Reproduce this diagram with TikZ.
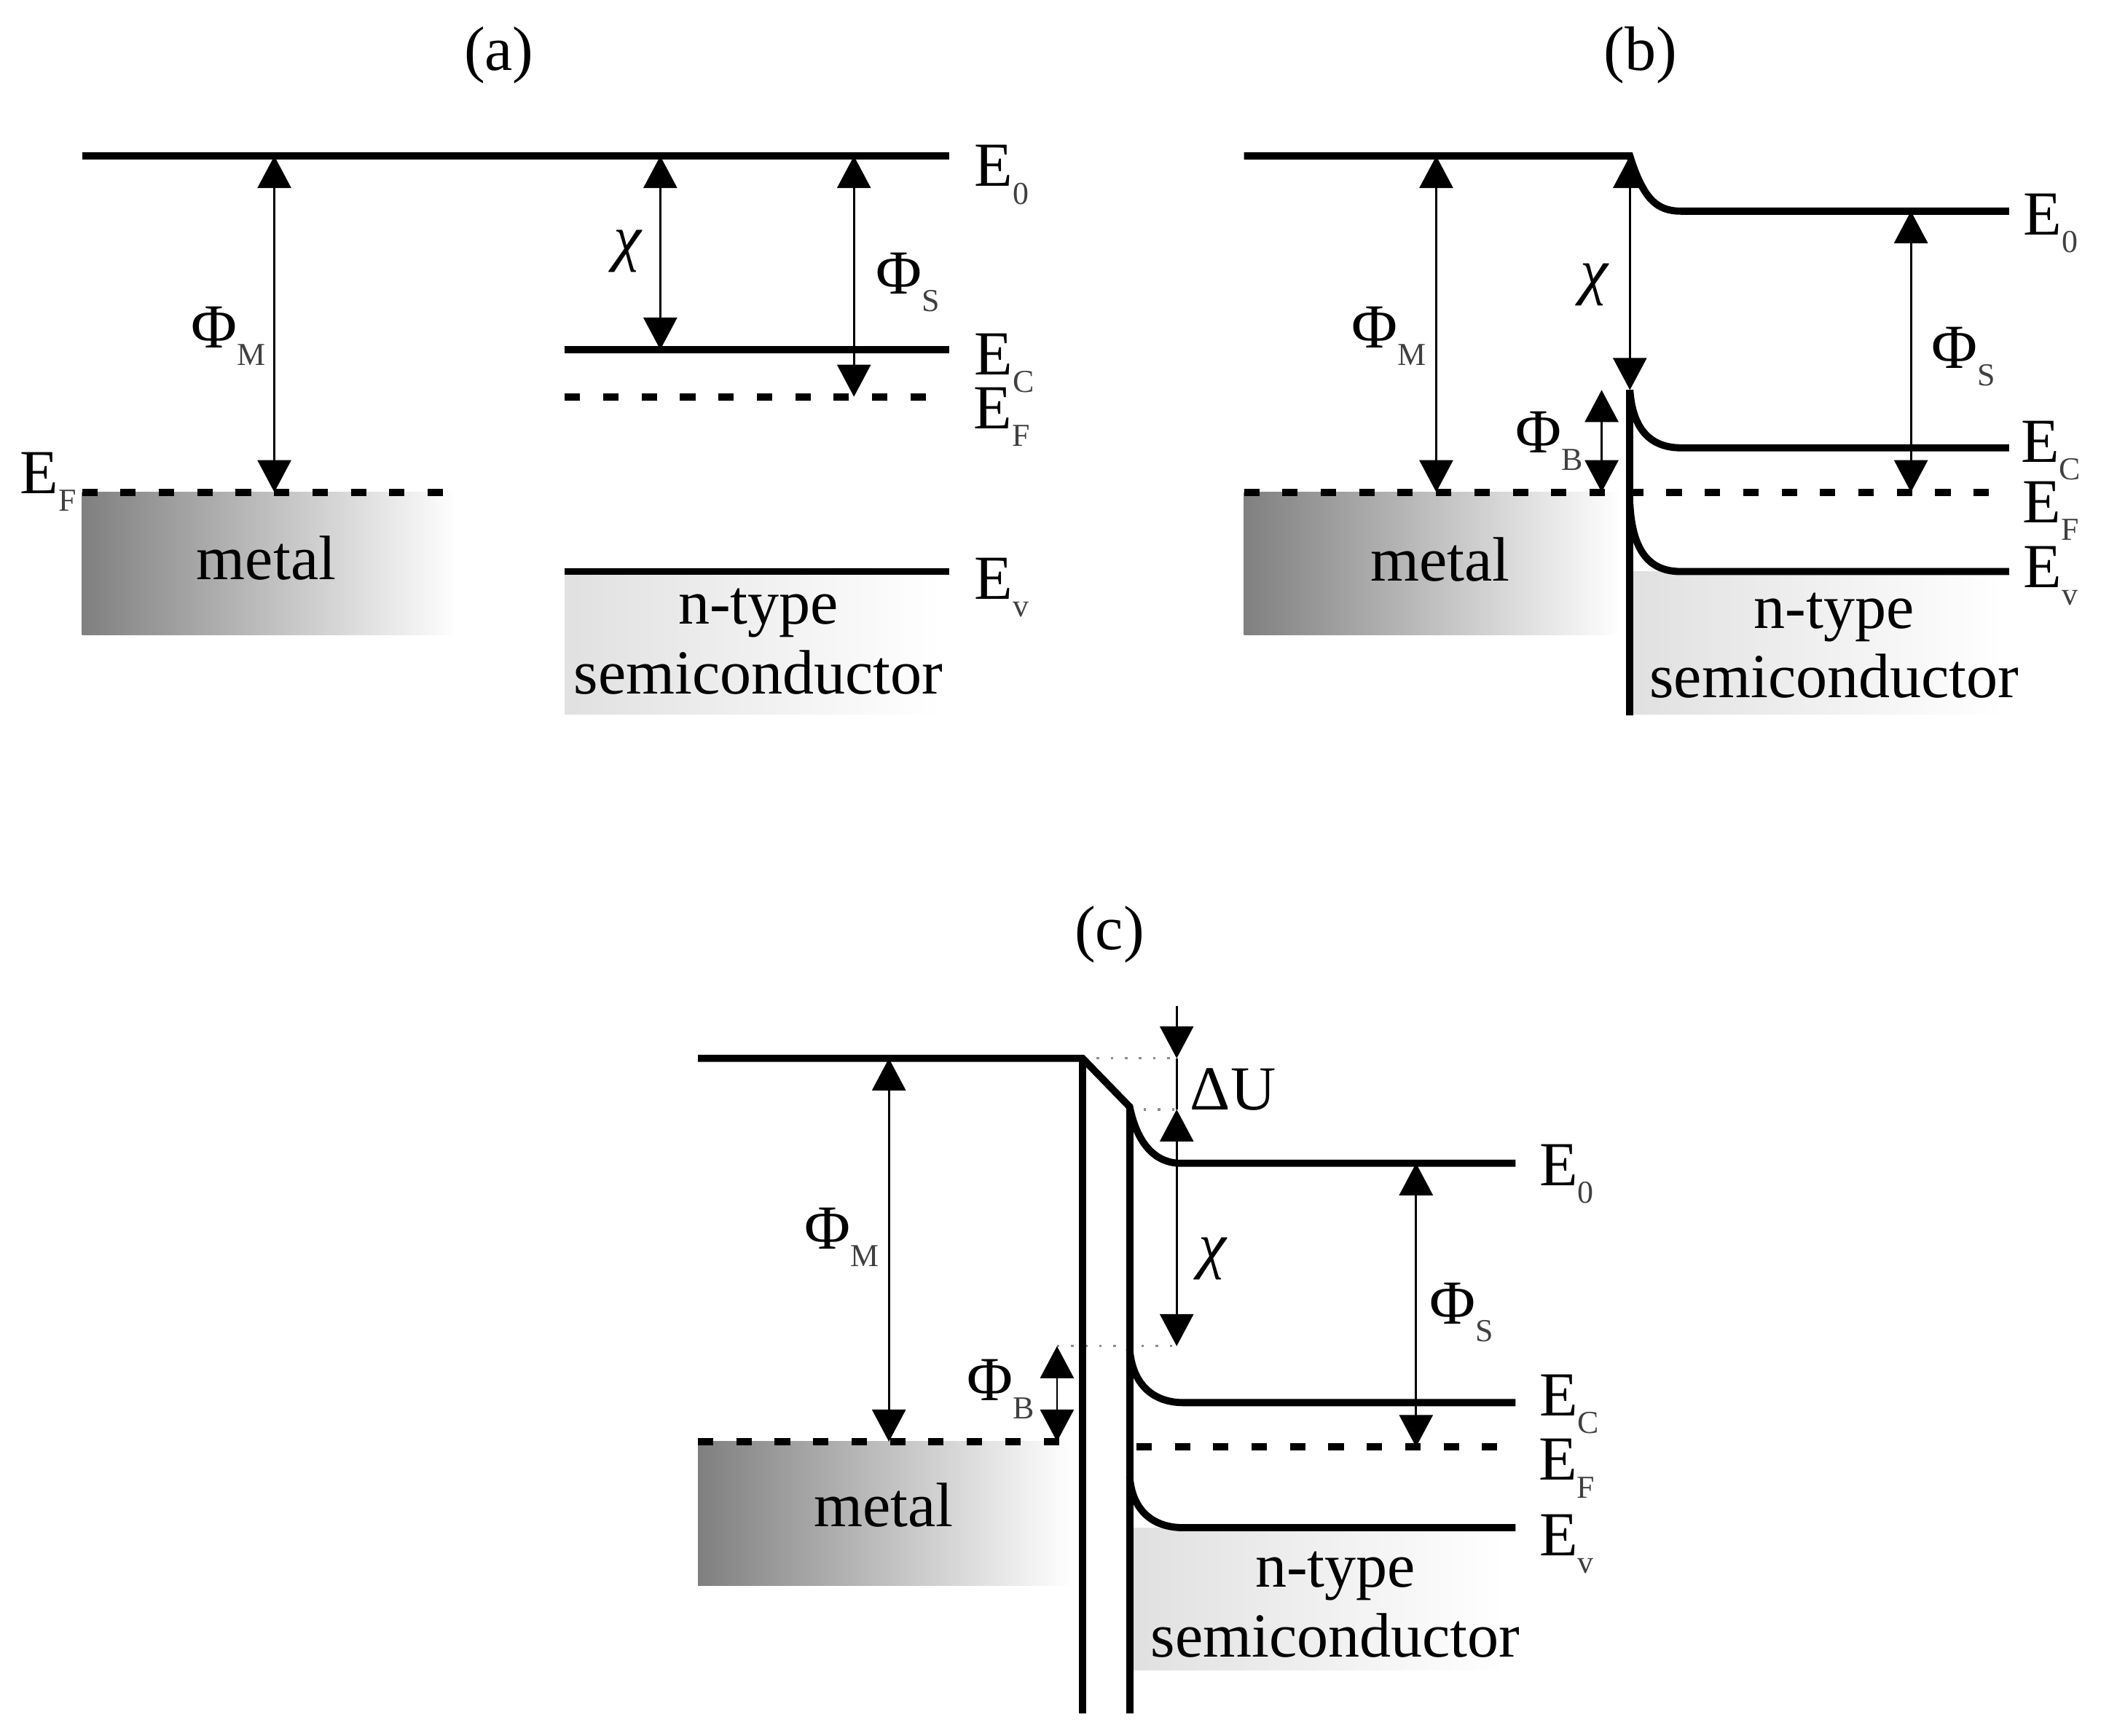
\documentclass[tikz,border=0pt]{standalone}
\usepackage{fontspec}
\setmainfont{Liberation Serif}
\usetikzlibrary{arrows.meta}
\newcommand{\lvl}[2]{#1\raisebox{-0.28em}{\fontsize{12.5}{14}\selectfont\color{black!75} #2}}
\newcommand{\kai}{\textit{χ}}
\tikzset{
  level/.style={line width=2.8pt},
  fermi/.style={line width=2.8pt, dash pattern=on 6pt off 9pt},
  gap/.style={<->, line width=0.8pt},
  guide/.style={line width=0.9pt, black!45, dash pattern=on 1pt off 4.5pt},
  txt/.style={inner sep=0pt, font=\fontsize{24.5}{28}\selectfont},
  >={Triangle[length=4.4mm,width=4.6mm]}
}
\begin{document}
\begin{tikzpicture}[x=0.1846mm,y=-0.1846mm]
\useasboundingbox (0,0) rectangle (1568.3,1290.4);

\shade[left color=black!50, right color=white] (61,366) rectangle (340,472);
\shade[left color=black!12, right color=white] (420,425) rectangle (700,531);
\shade[left color=black!50, right color=white] (925,366) rectangle (1205,472);
\shade[left color=black!12, right color=white] (1214,425) rectangle (1490,531);
\shade[left color=black!50, right color=white] (519,1072) rectangle (797,1179);
\shade[left color=black!12, right color=white] (843,1136) rectangle (1120,1242);

\node[txt](Ta) at (371,41) {(a)};
\node[txt](Tb) at (1220,41) {(b)};
\node[txt](Tc) at (825,695) {(c)};

\coordinate (A0l) at (61,116);
\coordinate (A0r) at (706,116);
\coordinate (ACl) at (420,260);
\coordinate (ACr) at (706,260);
\coordinate (AFl) at (420,295);
\coordinate (AFr) at (695,295);
\coordinate (AVl) at (420,425);
\coordinate (AVr) at (706,425);
\coordinate (AMl) at (61,366);
\coordinate (AMr) at (336,366);
\draw[level] (A0l) -- (A0r);
\draw[level] (ACl) -- (ACr);
\draw[level] (AVl) -- (AVr);
\draw[fermi] (AFl) -- (AFr);
\draw[fermi] (AMl) -- (AMr);
\draw[gap] (A0l -| 204,0) -- (AMl -| 204,0);
\draw[gap] (A0l -| 491,0) -- (ACl -| 491,0);
\draw[gap] (A0l -| 635,0) -- (AFl -| 635,0);

\node[txt](AE0) at (745,130) {\lvl{E}{0}};
\node[txt](AEC) at (747,270) {\lvl{E}{C}};
\node[txt](AEF) at (745,310) {\lvl{E}{F}};
\node[txt](AEV) at (745,437) {\lvl{E}{v}};
\node[txt](AEM) at (36,358) {\lvl{E}{F}};
\node[txt](APM) at (170,250) {\lvl{Φ}{M}};
\node[txt](AX) at (467,187) {\kai};
\node[txt](APS) at (675,210) {\lvl{Φ}{S}};
\node[txt](Am) at (198,415) {metal};
\node[txt](An) at (564,456) {n-type};
\node[txt](As) at (564,500) {semiconductor};

\coordinate (B0l) at (925,116);
\coordinate (B0k) at (1212,116);
\coordinate (B0b) at (1250,157);
\coordinate (B0r) at (1494,157);
\coordinate (BCk) at (1212,290);
\coordinate (BCb) at (1250,333);
\coordinate (BCr) at (1494,333);
\coordinate (BVk) at (1212,375);
\coordinate (BVb) at (1250,425);
\coordinate (BVr) at (1494,425);
\coordinate (BFl) at (925,366);
\coordinate (BFr) at (1490,366);
\coordinate (BW) at (1212,532);
\draw[level] (B0l) -- (B0k) .. controls (1222,148) and (1232,157) .. (B0b) -- (B0r);
\draw[level] (BCk) .. controls (1214,320) and (1228,333) .. (BCb) -- (BCr);
\draw[level] (BVk) .. controls (1214,412) and (1228,425) .. (BVb) -- (BVr);
\draw[level] (BCk) -- (BW);
\draw[fermi] (BFl) -- (BFr);
\draw[gap] (B0l -| 1068,0) -- (BFl -| 1068,0);
\draw[gap] (B0k) -- (BCk);
\draw[gap] (B0b -| 1421,0) -- (BFl -| 1421,0);
\draw[gap] (BCk -| 1191,0) -- (BFl -| 1191,0);

\node[txt](BE0) at (1525,166) {\lvl{E}{0}};
\node[txt](BEC) at (1525,335) {\lvl{E}{C}};
\node[txt](BEF) at (1525,380) {\lvl{E}{F}};
\node[txt](BEV) at (1525,428) {\lvl{E}{v}};
\node[txt](BPM) at (1033,250) {\lvl{Φ}{M}};
\node[txt](BX) at (1186,212) {\kai};
\node[txt](BPS) at (1460,265) {\lvl{Φ}{S}};
\node[txt](BPB) at (1152,328) {\lvl{Φ}{B}};
\node[txt](Bm) at (1071,416) {metal};
\node[txt](Bn) at (1364,459) {n-type};
\node[txt](Bs) at (1364,503) {semiconductor};

\coordinate (C0l) at (519,787);
\coordinate (C0k) at (805,787);
\coordinate (C0s) at (840,823);
\coordinate (C0b) at (878,865);
\coordinate (C0r) at (1127,865);
\coordinate (CCk) at (840,1003);
\coordinate (CCb) at (880,1043);
\coordinate (CCr) at (1127,1043);
\coordinate (CVk) at (840,1098);
\coordinate (CVb) at (880,1136);
\coordinate (CVr) at (1127,1136);
\coordinate (CMl) at (519,1072);
\coordinate (CMr) at (790,1072);
\coordinate (CFl) at (845,1076);
\coordinate (CFr) at (1120,1076);
\coordinate (CWl) at (805,1274);
\coordinate (CWr) at (840,1274);
\coordinate (CUt) at (875,748);
\coordinate (CUa) at (875,787);
\coordinate (CUb) at (875,825);
\coordinate (CXb) at (875,1001);
\coordinate (CBt) at (786,1001);
\draw[guide] (C0k) -- (CUa);
\draw[guide] (C0s |- CUb) -- (CUb);
\draw[guide] (CBt) -- (CXb);
\draw[level] (C0l) -- (C0k) -- (C0s) .. controls (846,852) and (860,865) .. (C0b) -- (C0r);
\draw[level] (CCk) .. controls (842,1030) and (858,1043) .. (CCb) -- (CCr);
\draw[level] (CVk) .. controls (842,1124) and (858,1136) .. (CVb) -- (CVr);
\draw[level] (C0k) -- (CWl);
\draw[level] (C0s) -- (CWr);
\draw[fermi] (CMl) -- (CMr);
\draw[fermi] (CFl) -- (CFr);
\draw[->, line width=0.8pt] (CUt) -- (CUa);
\draw[line width=0.8pt] (CUa) -- (CUb);
\draw[gap] (CUb) -- (CXb);
\draw[gap] (C0l -| 661,0) -- (CMl -| 661,0);
\draw[gap] (CBt) -- (CMl -| 786,0);
\draw[gap] (C0r -| 1053,0) -- (CFl -| 1053,0);

\node[txt](CDU) at (917,810) {ΔU};
\node[txt](CE0) at (1165,873) {\lvl{E}{0}};
\node[txt](CEC) at (1167,1044) {\lvl{E}{C}};
\node[txt](CEF) at (1165,1092) {\lvl{E}{F}};
\node[txt](CEV) at (1165,1148) {\lvl{E}{v}};
\node[txt](CPM) at (626,920) {\lvl{Φ}{M}};
\node[txt](CX) at (902,936) {\kai};
\node[txt](CPS) at (1087,976) {\lvl{Φ}{S}};
\node[txt](CPB) at (744,1033) {\lvl{Φ}{B}};
\node[txt](Cm) at (657,1119) {metal};
\node[txt](Cn) at (993,1172) {n-type};
\node[txt](Cs) at (993,1216) {semiconductor};
\end{tikzpicture}
\end{document}
